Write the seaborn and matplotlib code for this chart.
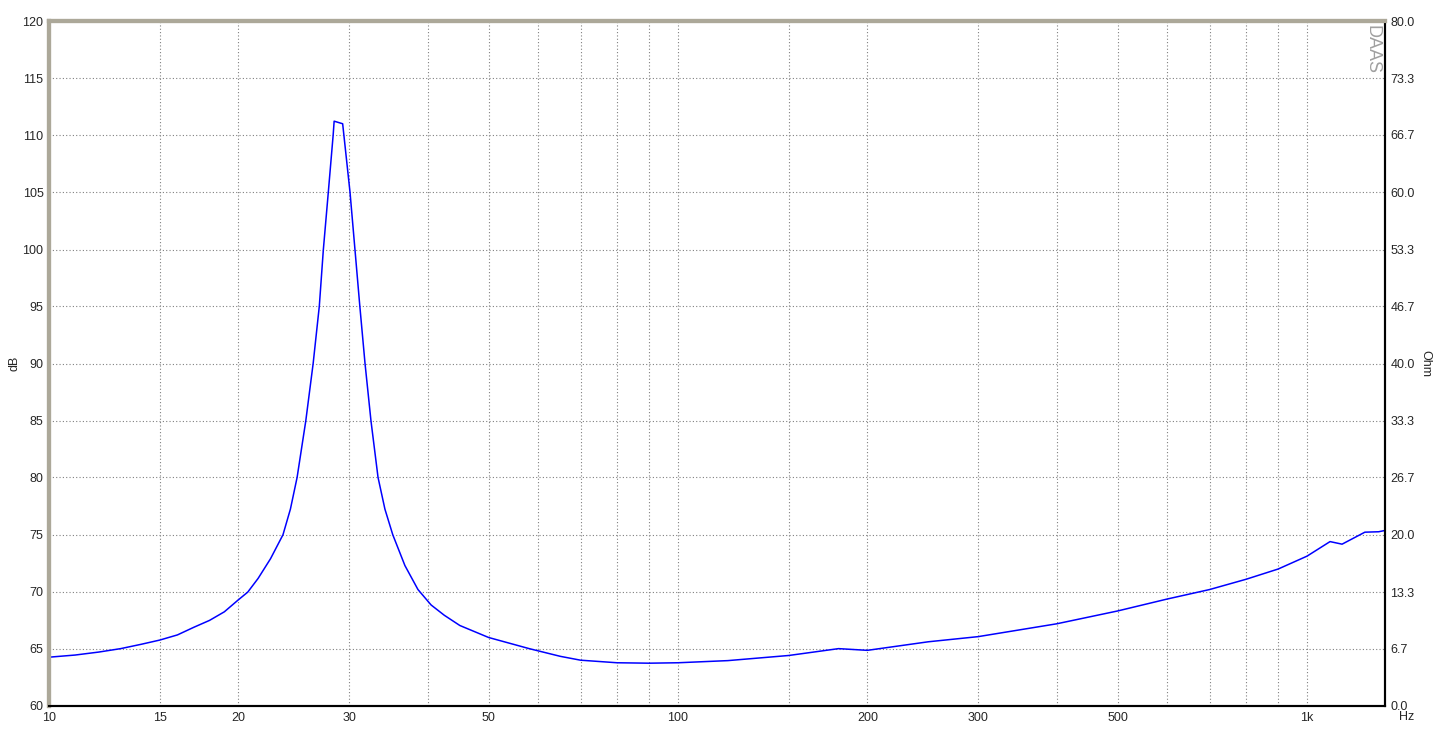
import numpy as np
import pandas as pd
import seaborn as sns
import matplotlib.pyplot as plt
from matplotlib.ticker import FixedLocator, NullLocator

OUTPUT_IMAGE = 'out.png'

# impedance curve (Hz, Ohm)
freq = [10, 11, 12, 13, 14, 15, 16, 17, 18, 19, 20, 20.7, 21.5, 22.5, 23.55, 24.2,
        24.8, 25.6, 26.3, 26.9, 27.3, 27.8, 28.3, 28.4, 29.3, 30.1, 30.65, 31.2,
        31.8, 32.5, 33.35, 34.2, 35.2, 36.8, 38.6, 40.5, 42.5, 45, 50, 58, 65, 70,
        80, 90, 100, 120, 150, 180, 200, 250, 300, 400, 500, 600, 700, 800, 900,
        1000, 1088, 1137, 1236, 1300, 1330]
ohm = [5.7, 5.95, 6.3, 6.7, 7.2, 7.7, 8.3, 9.2, 10.0, 11.0, 12.4, 13.3, 14.9, 17.2,
       20.0, 23.0, 26.7, 33.3, 40.0, 46.7, 53.3, 60.0, 66.7, 68.3, 68.0, 60.0, 53.3,
       46.7, 40.0, 33.3, 26.7, 23.0, 20.0, 16.4, 13.6, 11.8, 10.6, 9.4, 8.0, 6.7,
       5.8, 5.35, 5.05, 5.0, 5.05, 5.3, 5.9, 6.7, 6.5, 7.5, 8.1, 9.6, 11.1, 12.5,
       13.6, 14.8, 16.0, 17.5, 19.2, 18.9, 20.3, 20.35, 20.5]

db_ticks = [60, 65, 70, 75, 80, 85, 90, 95, 100, 105, 110, 115, 120]
ohm_ticks = [0.0, 6.7, 13.3, 20.0, 26.7, 33.3, 40.0, 46.7, 53.3, 60.0, 66.7, 73.3, 80.0]
x_grid = [10, 15, 20, 30, 40, 50, 60, 70, 80, 90, 100, 150, 200, 300, 400, 500,
          600, 700, 800, 900, 1000]
x_labels = {10: '10', 15: '15', 20: '20', 30: '30', 50: '50', 100: '100',
            200: '200', 300: '300', 500: '500', 1000: '1k'}

sns.set_style('white')
plt.rcParams['font.family'] = ['Liberation Sans', 'DejaVu Sans']
plt.rcParams['font.size'] = 9

df = pd.DataFrame({'freq': freq, 'ohm': ohm})

fig = plt.figure(figsize=(14.36, 7.29), dpi=100)
ax = fig.add_axes([49 / 1436, 23 / 729, 1336 / 1436, 685 / 729])
ax.set_xscale('log')
ax.set_xlim(10, 10 ** (1 + 1336 / 629))
ax.set_ylim(0, 80)

sns.lineplot(data=df, x='freq', y='ohm', ax=ax, color='#0000ff', linewidth=1.1)

ax2 = ax.twinx()

# grid
ax.xaxis.set_major_locator(FixedLocator(x_grid))
ax.xaxis.set_minor_locator(NullLocator())
ax.set_xticklabels([x_labels.get(v, '') for v in x_grid])
ax.set_yticks(ohm_ticks)
ax.grid(True, which='major', color='#808080', linestyle=(0, (1, 2)), linewidth=0.8)
ax.tick_params(axis='both', length=0, pad=4, labelsize=9)

# right axis in Ohm, left axis in dB
ax.yaxis.tick_right()
ax.set_yticklabels([f'{v:.1f}' for v in ohm_ticks])
ax.set_xlabel('')
ax.set_ylabel('')

ax2.yaxis.tick_left()
ax2.set_ylim(60, 120)
ax2.set_yticks(db_ticks)
ax2.set_yticklabels([str(v) for v in db_ticks])
ax2.tick_params(axis='y', length=0, pad=4, labelsize=9)

for a in (ax, ax2):
    a.spines['left'].set_color('#aca899')
    a.spines['left'].set_linewidth(3)
    a.spines['top'].set_color('#aca899')
    a.spines['top'].set_linewidth(3)
    a.spines['right'].set_color('black')
    a.spines['right'].set_linewidth(1.5)
    a.spines['bottom'].set_color('black')
    a.spines['bottom'].set_linewidth(1.5)
    a.spines['left'].set_visible(True)
    a.spines['top'].set_visible(True)
ax.axhline(80, color='black', linewidth=1.2, zorder=5, clip_on=False)

fig.text(14 / 1436, 1 - 363 / 729, 'dB', rotation=90, ha='center', va='center', fontsize=9)
fig.text(1425 / 1436, 1 - 363 / 729, 'Ohm', rotation=270, ha='center', va='center', fontsize=9)
fig.text(1407 / 1436, 1 - 717 / 729, 'Hz', ha='center', va='center', fontsize=9)
fig.text(1372 / 1436, 1 - 25 / 729, 'DAAS', rotation=270, ha='center', va='top',
         fontsize=13, color='#a0a0a0', fontweight='light')

plt.savefig(OUTPUT_IMAGE, dpi=100)
